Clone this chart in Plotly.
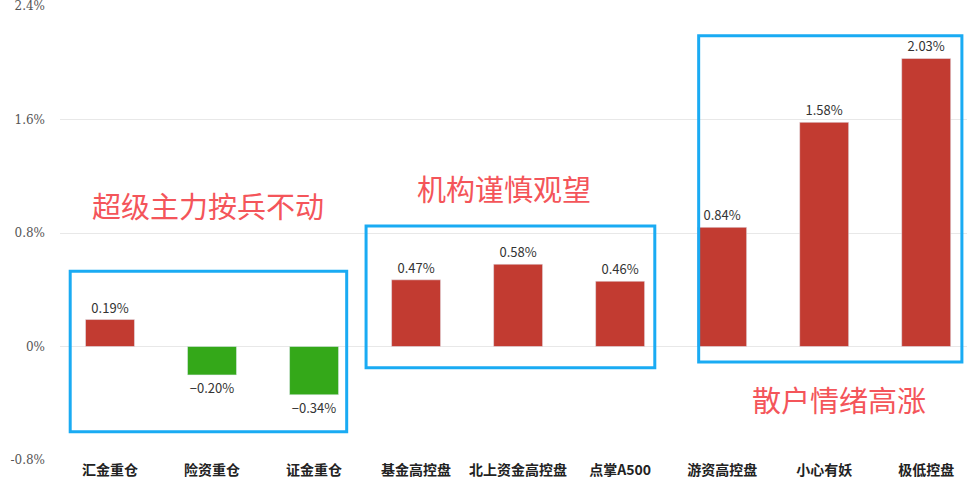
import plotly.graph_objects as go

# categories and daily change (%)
categories = ["汇金重仓", "险资重仓", "证金重仓", "基金高控盘", "北上资金高控盘",
              "点掌A500", "游资高控盘", "小心有妖", "极低控盘"]
changes = [0.19, -0.20, -0.34, 0.47, 0.58, 0.46, 0.84, 1.58, 2.03]
tick_vals = [-0.8, 0, 0.8, 1.6, 2.4]
tick_text = ["-0.8%", "0%", "0.8%", "1.6%", "2.4%"]

# group boxes: (x0, x1, y0, y1, caption, caption x, caption y)
groups = [
    (-0.39, 2.32, -0.60, 0.53, "超级主力按兵不动", 0.96, 1.00),
    (2.51, 5.34, -0.15, 0.85, "机构谨慎观望", 3.86, 1.12),
    (5.77, 8.35, -0.11, 2.19, "散户情绪高涨", 7.15, -0.37),
]

colors = ["#C23B31" if v >= 0 else "#34A819" for v in changes]
labels = [f"{v:.2f}%".replace("-", "−") for v in changes]

fig = go.Figure()
fig.add_trace(go.Bar(
    x=categories, y=changes, marker_color=colors, width=0.48,
    text=labels, textposition="outside",
    textfont=dict(size=13, color="#333333"), cliponaxis=False,
))

for x0, x1, y0, y1, cap, cx, cy in groups:
    fig.add_shape(type="rect", xref="x", yref="y", x0=x0, x1=x1, y0=y0, y1=y1,
                  line=dict(color="#1AABF3", width=3), layer="above")
    fig.add_annotation(x=cx, y=cy, xref="x", yref="y", text=cap, showarrow=False,
                       font=dict(size=29, color="#F4555A",
                                 family="Noto Sans CJK SC"))

fig.update_layout(
    width=967, height=490,
    margin=dict(l=60, r=0, t=6, b=30, autoexpand=False),
    plot_bgcolor="white", paper_bgcolor="white",
    showlegend=False,
    font=dict(family="Noto Sans CJK SC", color="#333333"),
)
fig.update_xaxes(
    tickfont=dict(size=14, color="#222222", family="Noto Sans CJK SC", weight="bold"),
    showgrid=False, showline=False, ticks="", range=[-0.49, 8.40],
    automargin=False,
)
fig.update_yaxes(
    range=[-0.8, 2.4], tickvals=tick_vals, ticktext=tick_text,
    tickfont=dict(size=12, color="#555555", family="DejaVu Serif"),
    gridcolor="#E8E8E8", zeroline=True, zerolinecolor="#E8E8E8", zerolinewidth=1,
    ticks="", ticklabelstandoff=14, automargin=False, ticklabeloverflow="allow",
)

# page body margin off so the chart sits at the window corner
fig.write_html("out.html", config={"displayModeBar": False},
               post_script="document.body.style.margin='0';")
